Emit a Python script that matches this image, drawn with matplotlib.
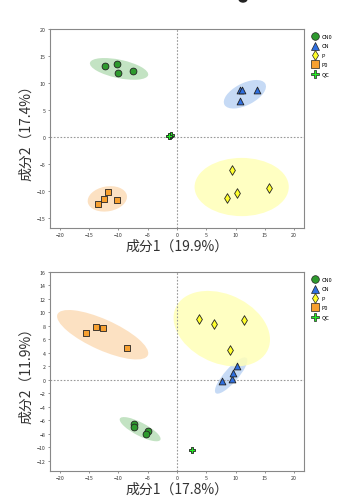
import numpy as np
import matplotlib.pyplot as plt
from matplotlib.patches import Ellipse
from matplotlib.lines import Line2D

plt.rcParams['font.family'] = ['Noto Sans CJK SC', 'DejaVu Sans']

groups = ['CN0', 'CN', 'P', 'P0', 'QC']
markers = ['o', '^', 'd', 's', 'P']
face_cols = ['#2e9a2e', '#2f6fe0', '#ffff2a', '#f7a030', '#22ee22']
ell_cols = ['#b9deb9', '#bcd4f4', '#ffffb8', '#fcdcb8', None]

# panel 1 scores
p1_x = {
    'CN0': [-12.3, -10.3, -10.0, -7.5],
    'CN': [10.8, 11.1, 10.7, 13.7],
    'P': [9.4, 10.2, 8.6, 15.8],
    'P0': [-11.8, -12.4, -13.5, -10.3],
    'QC': [-1.2, -1.1, -1.3],
}
p1_y = {
    'CN0': [13.2, 13.5, 11.8, 12.3],
    'CN': [8.6, 8.7, 6.6, 8.7],
    'P': [-6.2, -10.4, -11.3, -9.4],
    'P0': [-10.2, -11.5, -12.4, -11.8],
    'QC': [0.2, 0.4, 0.1],
}
# ellipse: center x, center y, width, height, angle
p1_ell = {
    'CN0': (-9.9, 12.6, 10.2, 3.4, -13),
    'CN': (11.6, 7.9, 8.0, 4.0, 30),
    'P': (11.05, -9.3, 16.1, 10.8, 0),
    'P0': (-11.9, -11.5, 6.8, 4.6, 12),
}

# panel 2 scores
p2_x = {
    'CN0': [-7.4, -7.4, -4.9, -5.3],
    'CN': [7.7, 9.4, 9.6, 10.2],
    'P': [3.7, 6.4, 11.5, 9.0],
    'P0': [-15.6, -13.9, -12.7, -8.6],
    'QC': [2.5],
}
p2_y = {
    'CN0': [-6.6, -7.0, -7.5, -8.0],
    'CN': [-0.2, 0.15, 1.0, 2.1],
    'P': [9.0, 8.25, 8.9, 4.4],
    'P0': [6.9, 7.85, 7.65, 4.8],
    'QC': [-10.4],
}
p2_ell = {
    'CN0': (-6.3, -7.3, 7.6, 2.0, -24),
    'CN': (9.25, 0.65, 7.4, 2.2, 44),
    'P': (7.65, 7.6, 17.0, 10.4, -18),
    'P0': (-12.7, 6.7, 16.6, 4.6, -21),
}

fig = plt.figure(figsize=(3.39, 5.02), dpi=100)


def draw_panel(ax, xs, ys, ells, xlab, ylab, yticks, ylim):
    for g, c in zip(groups, ell_cols):
        if g in ells:
            cx, cy, w, h, a = ells[g]
            ax.add_patch(Ellipse((cx, cy), w, h, angle=a, facecolor=c,
                                 edgecolor='none', alpha=0.85, zorder=1))
    ax.axhline(0, color='#999999', lw=0.8, ls=(0, (1.5, 1.5)), zorder=2)
    ax.axvline(0, color='#999999', lw=0.8, ls=(0, (1.5, 1.5)), zorder=2)
    for g, m, c in zip(groups, markers, face_cols):
        ax.scatter(xs[g], ys[g], marker=m, s=24, facecolor=c,
                   edgecolor='#222222', linewidth=0.6, zorder=3)
    ax.set_xlim(-21.7, 21.7)
    ax.set_ylim(*ylim)
    ax.set_xticks(np.arange(-20, 21, 5))
    ax.set_yticks(yticks)
    ax.tick_params(labelsize=3.8, length=1.5, width=0.5, color='#666666',
                   pad=1.5, labelcolor='#333333')
    for s in ax.spines.values():
        s.set_color('#888888')
        s.set_linewidth(0.8)
    ax.set_xlabel(xlab, fontsize=10, color='#333333', labelpad=1)
    ax.set_ylabel(ylab, fontsize=10, color='#333333', labelpad=3)
    handles = [Line2D([], [], marker=m, ls='none', markersize=5.5,
                      markerfacecolor=c, markeredgecolor='#222222',
                      markeredgewidth=0.5)
               for m, c in zip(markers, face_cols)]
    ax.legend(handles, groups, loc='upper left', bbox_to_anchor=(1.01, 1.0),
              frameon=False, fontsize=4, handletextpad=0.6,
              labelspacing=0.8, borderaxespad=0.5, handlelength=1.2)


ax1 = fig.add_axes([50 / 339, 1 - 229 / 502, 254 / 339, 199 / 502])
draw_panel(ax1, p1_x, p1_y, p1_ell, '成分1（19.9%）', '成分2（17.4%）',
           np.arange(-15, 21, 5), (-16.9, 20))

ax2 = fig.add_axes([50 / 339, 1 - 472 / 502, 254 / 339, 199 / 502])
draw_panel(ax2, p2_x, p2_y, p2_ell, '成分1（17.8%）', '成分2（11.9%）',
           np.arange(-12, 17, 2), (-13.5, 16))

# cut-off mark at the very top
fig.add_artist(Ellipse((243 / 339, 1.0), 8 / 339, 6 / 502,
                       transform=fig.transFigure, color='#222222'))

fig.savefig('out.png', dpi=100)
